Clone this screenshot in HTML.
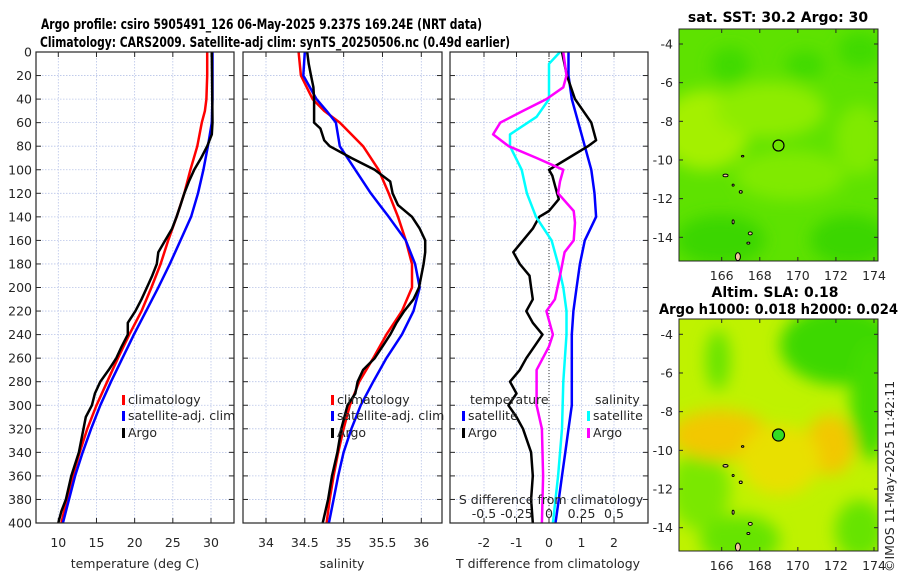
<!DOCTYPE html>
<html><head><meta charset="utf-8"><style>
html,body{margin:0;padding:0;background:#fff;}
svg{display:block;font-family:"DejaVu Sans","Liberation Sans",sans-serif;}
.tk{font-size:12.5px;fill:#262626;}
.ttl{font-size:14px;font-weight:bold;fill:#000;}
</style></head><body>
<svg id="fig" width="900" height="580" viewBox="0 0 900 580" xmlns="http://www.w3.org/2000/svg">
<defs>
<filter id="blur6" x="-50%" y="-50%" width="200%" height="200%"><feGaussianBlur stdDeviation="8"/></filter>
<clipPath id="cm1"><rect x="679" y="29" width="199" height="232"/></clipPath>
<clipPath id="cm2"><rect x="679" y="319" width="199" height="232"/></clipPath>
</defs>
<text class="ttl" x="41" y="29" textLength="441" lengthAdjust="spacingAndGlyphs">Argo profile: csiro 5905491_126 06-May-2025 9.237S 169.24E (NRT data)</text>
<text class="ttl" x="40" y="47" textLength="470" lengthAdjust="spacingAndGlyphs">Climatology: CARS2009. Satellite-adj clim: synTS_20250506.nc (0.49d earlier)</text>
<g id="panels"></g>
<g id="maps">
 <g clip-path="url(#cm1)">
  <rect x="679" y="29" width="199" height="232" fill="#5ee200"/>
  <g filter="url(#blur6)">
   <ellipse cx="705" cy="130" rx="45" ry="40" fill="#a4f000"/>
   <ellipse cx="770" cy="110" rx="55" ry="28" fill="#8eec00"/>
   <ellipse cx="790" cy="175" rx="55" ry="25" fill="#80ea00"/>
   <ellipse cx="860" cy="140" rx="25" ry="35" fill="#80ea00"/>
   <ellipse cx="730" cy="65" rx="20" ry="18" fill="#40da00"/>
   <ellipse cx="805" cy="65" rx="20" ry="14" fill="#40da00"/>
   <ellipse cx="860" cy="50" rx="22" ry="18" fill="#40da00"/>
   <ellipse cx="720" cy="240" rx="45" ry="25" fill="#3ad600"/>
   <ellipse cx="850" cy="240" rx="40" ry="25" fill="#3ad600"/>
  </g>
 </g>
 <rect x="679" y="29" width="199" height="232" fill="none" stroke="#262626" stroke-width="1"/>
 <circle cx="778.5" cy="145.5" r="5.5" fill="none" stroke="#000" stroke-width="1.2"/>
 <text class="ttl" x="778" y="22" text-anchor="middle" font-size="12.5">sat. SST: 30.2 Argo: 30</text>
 <g clip-path="url(#cm2)">
  <rect x="679" y="319" width="199" height="232" fill="#bff200"/>
  <g filter="url(#blur6)">
   <ellipse cx="840" cy="345" rx="60" ry="40" fill="#3cd800"/>
   <ellipse cx="870" cy="400" rx="20" ry="60" fill="#44dc00"/>
   <ellipse cx="718" cy="360" rx="12" ry="30" fill="#66e400"/>
   <ellipse cx="700" cy="490" rx="30" ry="40" fill="#7ae800"/>
   <ellipse cx="740" cy="540" rx="40" ry="25" fill="#66e400"/>
   <ellipse cx="860" cy="530" rx="25" ry="30" fill="#66e400"/>
   <ellipse cx="720" cy="435" rx="50" ry="25" fill="#f2c800"/>
   <ellipse cx="830" cy="445" rx="25" ry="30" fill="#f2c800"/>
   <ellipse cx="780" cy="460" rx="40" ry="35" fill="#e8e000"/>
  </g>
 </g>
 <rect x="679" y="319" width="199" height="232" fill="none" stroke="#262626" stroke-width="1"/>
 <circle cx="778.5" cy="435" r="6" fill="#33dd22" stroke="#000" stroke-width="1.2"/>
 <text class="ttl" x="775" y="297" text-anchor="middle" font-size="12.5">Altim. SLA: 0.18</text>
 <text class="ttl" x="659" y="314" font-size="12.5" textLength="239" lengthAdjust="spacingAndGlyphs">Argo h1000: 0.018 h2000: 0.024</text>
 <text class="tk" transform="translate(894,572) rotate(-90)" font-size="12.5">©IMOS 11-May-2025 11:42:11</text>
</g>
</svg>
<script>
// ---- data ----
const depthClim = [0,20,40,50,60,80,100,120,140,160,180,200,220,240,260,280,300,320,340,360,380,400];
const tempClim  = [29.5,29.5,29.4,29.2,28.8,28.2,27.3,26.5,25.5,24.4,23.4,22.2,20.9,19.3,17.8,16.4,15.0,13.8,12.8,11.9,11.1,10.4];
const tempSat   = [30.2,30.2,30.2,30.15,30.1,29.6,29.0,28.3,27.4,26.0,24.6,23.1,21.5,19.9,18.4,16.9,15.5,14.3,13.2,12.2,11.4,10.6];
const depthArgoT = [0,60,70,80,90,100,110,120,130,140,150,160,170,180,190,200,210,220,230,240,250,260,270,280,290,300,310,320,340,360,380,390,400];
const tempArgo   = [30.1,30.2,30.1,29.5,28.7,27.8,27.1,26.5,26.0,25.5,24.9,24.0,23.1,22.9,22.3,21.6,20.9,20.1,19.1,19.1,18.3,17.6,16.6,15.5,14.8,14.4,13.6,13.3,12.7,11.7,11.0,10.4,10.0];
const salClim = [34.42,34.45,34.6,34.75,34.95,35.25,35.45,35.58,35.7,35.8,35.88,35.88,35.75,35.55,35.38,35.2,35.08,35.0,34.93,34.87,34.82,34.78];
const salSat  = [34.5,34.48,34.65,34.78,34.9,34.95,35.15,35.35,35.58,35.8,35.92,35.98,35.9,35.75,35.55,35.38,35.22,35.1,35.0,34.93,34.87,34.81];
const depthArgoS = [0,10,20,30,40,60,65,75,80,90,100,110,120,130,140,150,160,170,180,190,200,210,220,230,240,250,260,270,280,290,300,320,340,360,380,400];
const salArgo    = [34.53,34.55,34.58,34.61,34.62,34.62,34.7,34.75,34.82,35.1,35.4,35.6,35.63,35.7,35.88,35.98,36.05,36.05,36.03,36.0,35.97,35.9,35.78,35.68,35.6,35.5,35.4,35.25,35.18,35.15,35.05,34.97,34.92,34.85,34.8,34.73];
const depthDiff = [0,20,40,60,80,100,120,140,160,180,200,220,240,260,280,300,320,340,360,380,400];
const tDiffSat  = [0.6,0.6,0.7,0.9,1.1,1.3,1.4,1.45,1.1,0.95,0.85,0.75,0.7,0.7,0.7,0.7,0.6,0.5,0.4,0.3,0.2];
const depthTDiffArgo = [0,20,40,60,70,75,80,90,100,105,115,125,135,140,150,160,170,180,190,200,210,220,230,240,250,260,270,280,290,300,310,320,340,360,380,400];
const tDiffArgo = [0.4,0.55,0.8,1.3,1.4,1.45,1.2,0.6,0.0,0.1,0.2,0.3,0.0,-0.3,-0.5,-0.8,-1.1,-0.9,-0.6,-0.55,-0.5,-0.7,-0.5,-0.2,-0.45,-0.7,-0.9,-1.2,-1.0,-1.25,-1.0,-0.8,-0.55,-0.5,-0.55,-0.5];
const depthSDiffSat = [0,10,40,55,70,80,100,120,140,160,180,200,220,240,280,320,360,400];
const sDiffSat = [0.085,0.0,0.0,-0.095,-0.3,-0.3,-0.21,-0.17,-0.1,0.02,0.07,0.11,0.135,0.135,0.11,0.1,0.07,0.03];
const depthSDiffArgo = [0,20,30,40,50,60,70,80,90,100,110,120,135,145,160,170,190,210,220,240,250,270,290,300,320,360,400];
const sDiffArgo = [0.11,0.135,0.11,-0.02,-0.2,-0.375,-0.43,-0.31,-0.095,0.11,0.085,0.07,0.19,0.2,0.19,0.12,0.085,0.045,-0.02,0.03,0.0,-0.095,-0.095,-0.095,-0.055,-0.045,-0.055];
const depthTicks = [0,20,40,60,80,100,120,140,160,180,200,220,240,260,280,300,320,340,360,380,400];
const tempTicks = [10,15,20,25,30];
const salTicks = [34,34.5,35,35.5,36];
const tDiffTicks = [-2,-1,0,1,2];
const sDiffTicks = [-0.5,-0.25,0,0.25,0.5];

// ---- axes ----
const Y0=52, Y1=523;
const yS = d => Y0 + (d/400)*(Y1-Y0);
function lin(d0,d1,r0,r1){return v=>r0+(v-d0)/(d1-d0)*(r1-r0);}
const P1={x0:36,x1:234}, P2={x0:243,x1:442}, P3={x0:450,x1:648};
const xT = lin(10,30,58.3,211);
const xS = lin(34,36,266,421.3);
const xTd = lin(0,2,549,614);
const xSd = v => xTd(v*4);
const NS='http://www.w3.org/2000/svg';
const root=document.getElementById('panels');
function el(tag,attrs,parent){const e=document.createElementNS(NS,tag);for(const k in attrs)e.setAttribute(k,attrs[k]);(parent||root).appendChild(e);return e;}
function txt(s,attrs,parent){const t=el('text',attrs,parent);t.textContent=s;return t;}

function panel(P,name,xs,ticks,fmt,showY){
  const g=el('g',{});
  
  
  depthTicks.forEach(d=>{
    const y=yS(d);
    const gl=el('line',{x1:P.x0,x2:P.x1,y1:y,y2:y,stroke:'#b8c4e8','stroke-width':0.8,'stroke-dasharray':'1.5,1.5'},g);
    
    
    el('line',{x1:P.x0,x2:P.x0+5,y1:y,y2:y,stroke:'#262626'},g);
    el('line',{x1:P.x1,x2:P.x1-5,y1:y,y2:y,stroke:'#262626'},g);
    if(showY){const t=txt(String(d),{x:P.x0-4,y:y+4.5,'text-anchor':'end',class:'tk'},g);
      
      }
  });
  ticks.forEach(v=>{
    const x=xs(v);
    const gl=el('line',{x1:x,x2:x,y1:Y0,y2:Y1,stroke:'#b8c4e8','stroke-width':0.8,'stroke-dasharray':'1.5,1.5'},g);
    
    
    el('line',{x1:x,x2:x,y1:Y1,y2:Y1-5,stroke:'#262626'},g);
    el('line',{x1:x,x2:x,y1:Y0,y2:Y0+5,stroke:'#262626'},g);
    if(fmt){const t=txt(fmt(v),{x:x,y:Y1+24,'text-anchor':'middle',class:'tk'},g);
      
      }
  });
  return g;
}
function frame(P,name){const r=el('rect',{x:P.x0,y:Y0,width:P.x1-P.x0,height:Y1-Y0,fill:'none',stroke:'#262626','stroke-width':1.2});
  
  }
function line(xs,ds,vals,color,name,w){
  const d=vals.map((v,i)=>(i?'L':'M')+xs(v).toFixed(1)+','+yS(ds[i]).toFixed(1)).join('');
  const p=el('path',{d:d,fill:'none',stroke:color,'stroke-width':w||2.5,'stroke-linejoin':'round'});
  
  
}
function legendEntry(x,y,color,label,name){
  const g=el('g',{});
  
  
  el('rect',{x:x,y:y-9,width:3,height:10,fill:color},g);
  txt(label,{x:x+6,y:y,class:'tk','font-size':'13'},g);
}

// Panel 1: temperature
panel(P1,'temperature-panel',xT,tempTicks,v=>String(v),true);
line(xT,depthClim,tempClim,'#ff0000','temp-climatology-line');
line(xT,depthClim,tempSat,'#0000ff','temp-satellite-line');
line(xT,depthArgoT,tempArgo,'#000000','temp-argo-line');
frame(P1,'temperature-axes-frame');
legendEntry(122,404,'#ff0000','climatology','legend-climatology');
legendEntry(122,420,'#0000ff','satellite-adj. clim','legend-satellite-adj');
legendEntry(122,437,'#000000','Argo','legend-argo');
let t=txt('temperature (deg C)',{x:135,y:568,'text-anchor':'middle',class:'tk','font-size':'13'});



// Panel 2: salinity
panel(P2,'salinity-panel',xS,salTicks,v=>String(v),false);
line(xS,depthClim,salClim,'#ff0000','sal-climatology-line');
line(xS,depthClim,salSat,'#0000ff','sal-satellite-line');
line(xS,depthArgoS,salArgo,'#000000','sal-argo-line');
frame(P2,'salinity-axes-frame');
legendEntry(331,404,'#ff0000','climatology','legend-sal-climatology');
legendEntry(331,420,'#0000ff','satellite-adj. clim','legend-sal-satellite-adj');
legendEntry(331,437,'#000000','Argo','legend-sal-argo');
t=txt('salinity',{x:342,y:568,'text-anchor':'middle',class:'tk','font-size':'13'});



// Panel 3: differences
panel(P3,'difference-panel',xTd,tDiffTicks,v=>String(v),false);
const zl=el('line',{x1:xTd(0),x2:xTd(0),y1:Y0,y2:Y1,stroke:'#333','stroke-width':1,'stroke-dasharray':'1,2'});


line(xTd,depthDiff,tDiffSat,'#0000ff','tdiff-satellite-line');
line(xTd,depthTDiffArgo,tDiffArgo,'#000000','tdiff-argo-line');
line(xSd,depthSDiffSat,sDiffSat,'#00ffff','sdiff-satellite-line');
line(xSd,depthSDiffArgo,sDiffArgo,'#ff00ff','sdiff-argo-line');
frame(P3,'difference-axes-frame');
t=txt('temperature',{x:470,y:404,class:'tk','font-size':'13'});


legendEntry(462,420,'#0000ff','satellite','legend-tdiff-satellite');
legendEntry(462,437,'#000000','Argo','legend-tdiff-argo');
t=txt('salinity',{x:595,y:404,class:'tk','font-size':'13'});


legendEntry(587,420,'#00ffff','satellite','legend-sdiff-satellite');
legendEntry(587,437,'#ff00ff','Argo','legend-sdiff-argo');
t=txt('S difference from climatology',{x:551,y:504,'text-anchor':'middle',class:'tk','font-size':'13'});


sDiffTicks.forEach(v=>{
  const s=txt(String(v),{x:xSd(v),y:518,'text-anchor':'middle',class:'tk'});
  
  
});
t=txt('T difference from climatology',{x:548,y:568,'text-anchor':'middle',class:'tk','font-size':'13'});



// Map axes
const lonTicks=[166,168,170,172,174];
const latTicks=[-4,-6,-8,-10,-12,-14];
const maps=document.getElementById('maps');
[{top:29,bot:261,lat4:44,lat14:237.3},{top:319,bot:551,lat4:334.3,lat14:527.7}].forEach((m,mi)=>{
  const xL=lin(166,174,721.7,874), yL=lin(-4,-14,m.lat4,m.lat14);
  lonTicks.forEach(v=>{
    const x=xL(v);
    el('line',{x1:x,x2:x,y1:m.bot,y2:m.bot-4,stroke:'#262626'},maps);
    el('line',{x1:x,x2:x,y1:m.top,y2:m.top+4,stroke:'#262626'},maps);
    const s=txt(String(v),{x:x,y:m.bot+19,'text-anchor':'middle',class:'tk'},maps);
    
    
  });
  latTicks.forEach(v=>{
    const y=yL(v);
    el('line',{x1:679,x2:683,y1:y,y2:y,stroke:'#262626'},maps);
    el('line',{x1:878,x2:874,y1:y,y2:y,stroke:'#262626'},maps);
    const s=txt(String(v),{x:673,y:y+4.5,'text-anchor':'end',class:'tk'},maps);
    
    
  });
  // islands
  [[166.2,-10.8,2.5,1.3],[167.0,-11.65,1.5,1.3],[167.5,-13.8,2,1.5],[166.85,-15.0,2.5,4],[167.4,-14.3,1.5,1],[167.1,-9.8,1.2,0.8],[166.6,-11.3,1,1],[166.6,-13.2,1,2]].forEach(a=>{
    const e=el('ellipse',{cx:xL(a[0]),cy:yL(a[1]),rx:a[2],ry:a[3],fill:'#f2c8a0',stroke:'#000','stroke-width':1},maps);
    
    
  });
});
</script>
</body></html>
